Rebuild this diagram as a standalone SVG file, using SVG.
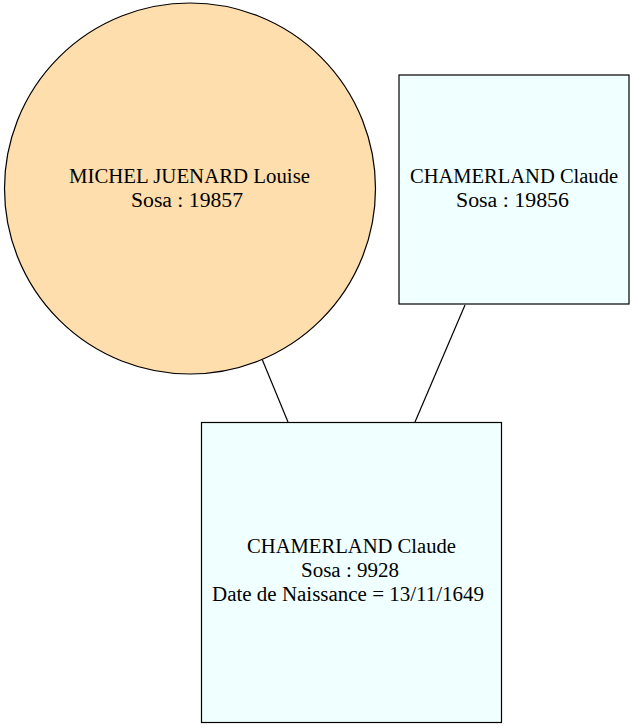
<svg xmlns="http://www.w3.org/2000/svg" width="635" height="728" viewBox="0 0 635 728">
<style>
.n{stroke:#000;stroke-width:1.2}
.box{fill:#f0ffff}
.fem{fill:#ffdead}
text{font-family:"Liberation Serif","Times New Roman",serif;font-size:20.5px;text-anchor:middle;fill:#000}
.e{stroke:#000;stroke-width:1.2;fill:none}
</style>
<rect width="635" height="728" fill="#fff"/>
<g id="edges">
<line class="e" x1="262" y1="359" x2="288" y2="422"/>
<line class="e" x1="465" y1="305" x2="415" y2="422"/>
</g>
<g id="n19857">
<circle class="n fem" cx="190" cy="188.5" r="185.5"/>
<text x="189.5" y="183" textLength="241" lengthAdjust="spacingAndGlyphs">MICHEL JUENARD Louise</text>
<text x="187" y="207" textLength="112" lengthAdjust="spacingAndGlyphs">Sosa : 19857</text>
</g>
<g id="n19856">
<rect class="n box" x="399" y="75" width="230" height="229"/>
<text x="514" y="183" textLength="208" lengthAdjust="spacingAndGlyphs">CHAMERLAND Claude</text>
<text x="512.5" y="207" textLength="113" lengthAdjust="spacingAndGlyphs">Sosa : 19856</text>
</g>
<g id="n9928">
<rect class="n box" x="201.5" y="422.5" width="300" height="300"/>
<text x="351.5" y="553" textLength="209" lengthAdjust="spacingAndGlyphs">CHAMERLAND Claude</text>
<text x="350" y="577" textLength="98" lengthAdjust="spacingAndGlyphs">Sosa : 9928</text>
<text x="348" y="601" textLength="272" lengthAdjust="spacingAndGlyphs">Date de Naissance = 13/11/1649</text>
</g>
</svg>
